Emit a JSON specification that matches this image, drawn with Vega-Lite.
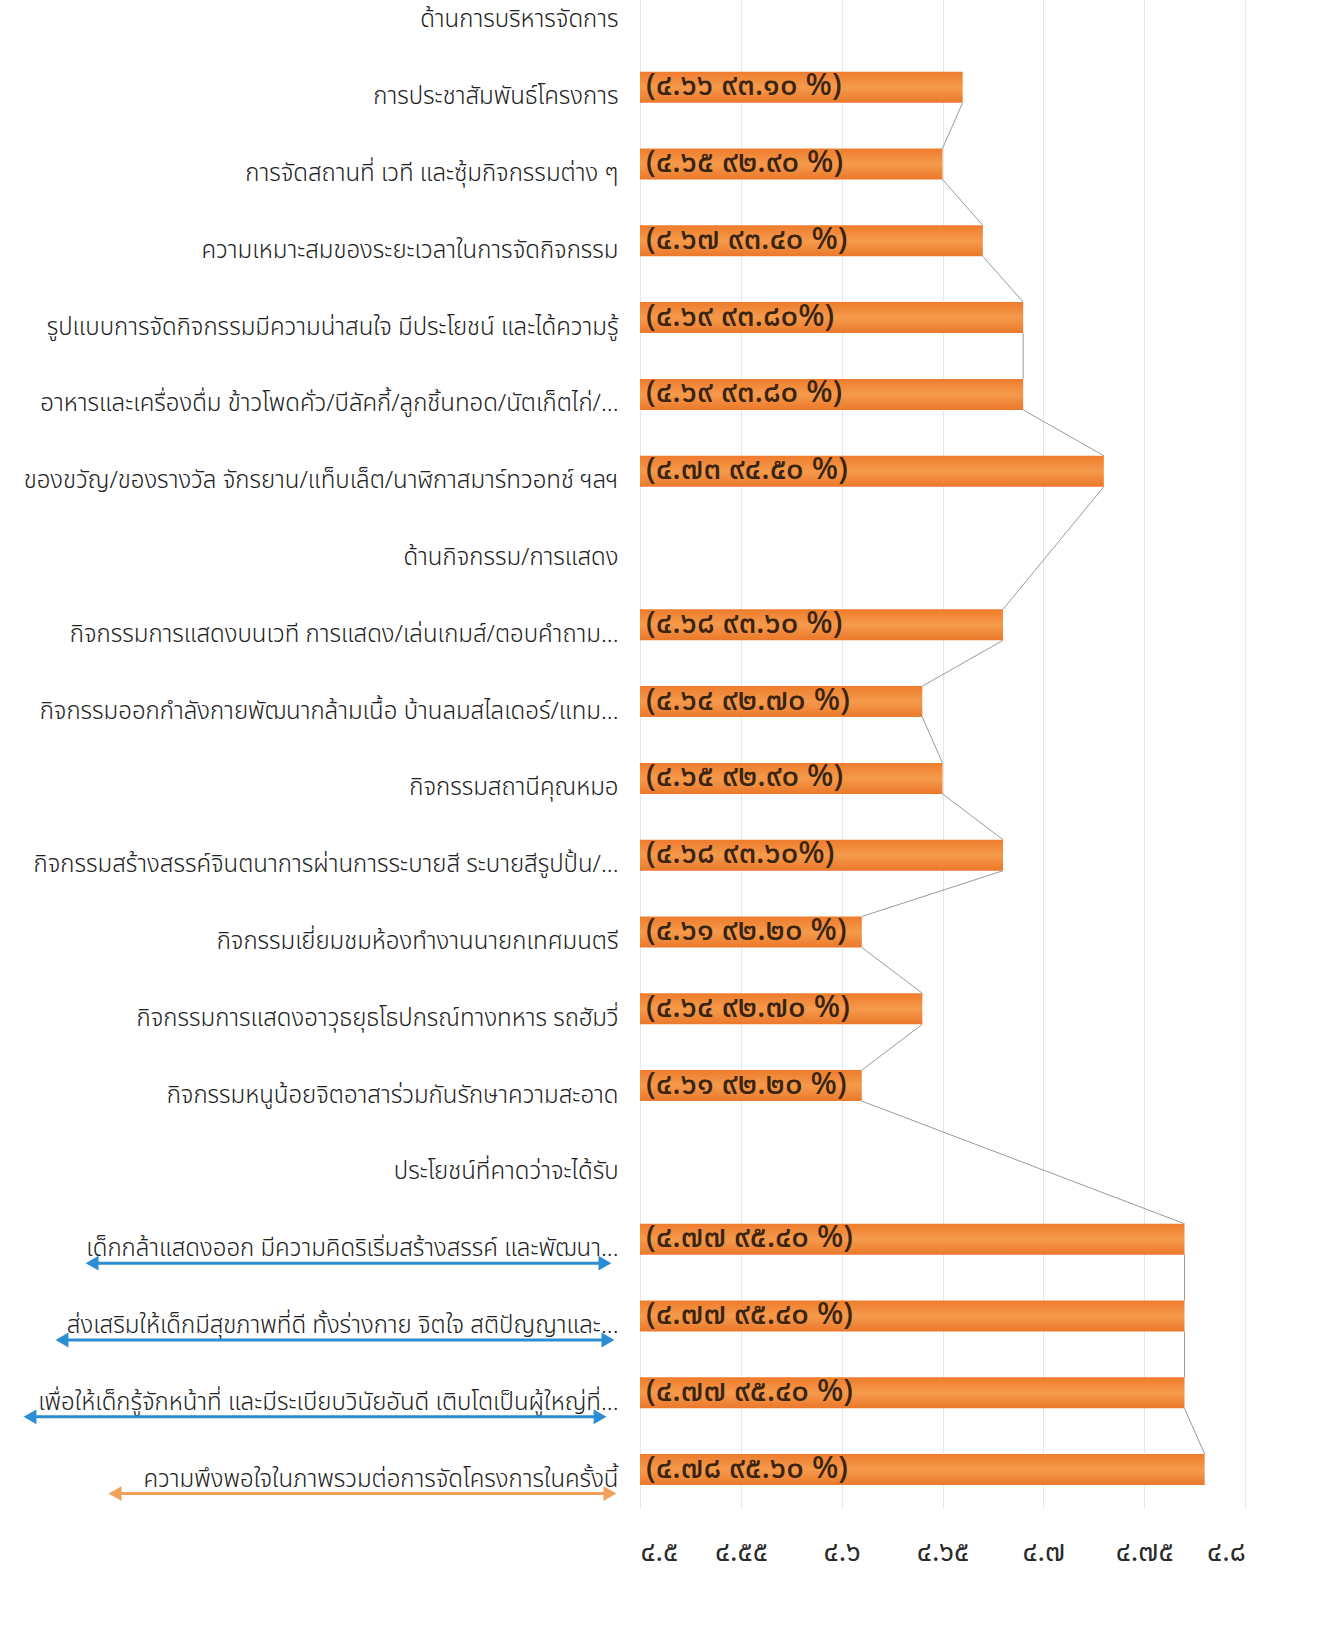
{
  "$schema": "https://vega.github.io/schema/vega-lite/v6.json",
  "autosize": {"type": "none"},
  "width": 605,
  "height": 1536,
  "padding": {"left": 640, "top": -28, "right": 94, "bottom": 132},
  "background": "white",
  "config": {
    "view": {"stroke": null},
    "font": "Noto Sans Thai, Noto Sans, sans-serif"
  },
  "datasets": {
    "items": [
      {"order": 1, "label": "ด้านการบริหารจัดการ", "value": null, "text": ""},
      {"order": 2, "label": "การประชาสัมพันธ์โครงการ", "value": 4.66, "text": "(๔.๖๖ ๙๓.๑๐ %)"},
      {"order": 3, "label": "การจัดสถานที่ เวที และซุ้มกิจกรรมต่าง ๆ", "value": 4.65, "text": "(๔.๖๕ ๙๒.๙๐ %)"},
      {"order": 4, "label": "ความเหมาะสมของระยะเวลาในการจัดกิจกรรม", "value": 4.67, "text": "(๔.๖๗ ๙๓.๔๐ %)"},
      {"order": 5, "label": "รูปแบบการจัดกิจกรรมมีความน่าสนใจ มีประโยชน์ และได้ความรู้", "value": 4.69, "text": "(๔.๖๙ ๙๓.๘๐%)"},
      {"order": 6, "label": "อาหารและเครื่องดื่ม ข้าวโพดคั่ว/บีลัคกี้/ลูกชิ้นทอด/นัตเก็ตไก่/...", "value": 4.69, "text": "(๔.๖๙ ๙๓.๘๐ %)"},
      {"order": 7, "label": "ของขวัญ/ของรางวัล จักรยาน/แท็บเล็ต/นาฬิกาสมาร์ทวอทช์ ฯลฯ", "value": 4.73, "text": "(๔.๗๓ ๙๔.๕๐ %)"},
      {"order": 8, "label": "ด้านกิจกรรม/การแสดง", "value": null, "text": ""},
      {"order": 9, "label": "กิจกรรมการแสดงบนเวที การแสดง/เล่นเกมส์/ตอบคำถาม...", "value": 4.68, "text": "(๔.๖๘ ๙๓.๖๐ %)"},
      {"order": 10, "label": "กิจกรรมออกกำลังกายพัฒนากล้ามเนื้อ บ้านลมสไลเดอร์/แทม...", "value": 4.64, "text": "(๔.๖๔ ๙๒.๗๐ %)"},
      {"order": 11, "label": "กิจกรรมสถานีคุณหมอ", "value": 4.65, "text": "(๔.๖๕ ๙๒.๙๐ %)"},
      {"order": 12, "label": "กิจกรรมสร้างสรรค์จินตนาการผ่านการระบายสี ระบายสีรูปปั้น/...", "value": 4.68, "text": "(๔.๖๘ ๙๓.๖๐%)"},
      {"order": 13, "label": "กิจกรรมเยี่ยมชมห้องทำงานนายกเทศมนตรี", "value": 4.61, "text": "(๔.๖๑ ๙๒.๒๐ %)"},
      {"order": 14, "label": "กิจกรรมการแสดงอาวุธยุธโธปกรณ์ทางทหาร รถฮัมวี่", "value": 4.64, "text": "(๔.๖๔ ๙๒.๗๐ %)"},
      {"order": 15, "label": "กิจกรรมหนูน้อยจิตอาสาร่วมกันรักษาความสะอาด", "value": 4.61, "text": "(๔.๖๑ ๙๒.๒๐ %)"},
      {"order": 16, "label": "ประโยชน์ที่คาดว่าจะได้รับ", "value": null, "text": ""},
      {"order": 17, "label": "เด็กกล้าแสดงออก มีความคิดริเริ่มสร้างสรรค์ และพัฒนา...", "value": 4.77, "text": "(๔.๗๗ ๙๕.๔๐ %)"},
      {"order": 18, "label": "ส่งเสริมให้เด็กมีสุขภาพที่ดี ทั้งร่างกาย จิตใจ สติปัญญาและ...", "value": 4.77, "text": "(๔.๗๗ ๙๕.๔๐ %)"},
      {"order": 19, "label": "เพื่อให้เด็กรู้จักหน้าที่ และมีระเบียบวินัยอันดี เติบโตเป็นผู้ใหญ่ที่...", "value": 4.77, "text": "(๔.๗๗ ๙๕.๔๐ %)"},
      {"order": 20, "label": "ความพึงพอใจในภาพรวมต่อการจัดโครงการในครั้งนี้", "value": 4.78, "text": "(๔.๗๘ ๙๕.๖๐ %)"}
    ],
    "arrows": [
      {"label": "เด็กกล้าแสดงออก มีความคิดริเริ่มสร้างสรรค์ และพัฒนา...", "start": 4.2283, "end": 4.4826, "kind": "blue"},
      {"label": "ส่งเสริมให้เด็กมีสุขภาพที่ดี ทั้งร่างกาย จิตใจ สติปัญญาและ...", "start": 4.2134, "end": 4.4841, "kind": "blue"},
      {"label": "เพื่อให้เด็กรู้จักหน้าที่ และมีระเบียบวินัยอันดี เติบโตเป็นผู้ใหญ่ที่...", "start": 4.1975, "end": 4.4802, "kind": "blue"},
      {"label": "ความพึงพอใจในภาพรวมต่อการจัดโครงการในครั้งนี้", "start": 4.2397, "end": 4.4851, "kind": "orange"}
    ]
  },
  "encoding": {
    "y": {
      "field": "label",
      "type": "nominal",
      "scale": {
        "domain": [
          "ด้านการบริหารจัดการ",
          "การประชาสัมพันธ์โครงการ",
          "การจัดสถานที่ เวที และซุ้มกิจกรรมต่าง ๆ",
          "ความเหมาะสมของระยะเวลาในการจัดกิจกรรม",
          "รูปแบบการจัดกิจกรรมมีความน่าสนใจ มีประโยชน์ และได้ความรู้",
          "อาหารและเครื่องดื่ม ข้าวโพดคั่ว/บีลัคกี้/ลูกชิ้นทอด/นัตเก็ตไก่/...",
          "ของขวัญ/ของรางวัล จักรยาน/แท็บเล็ต/นาฬิกาสมาร์ทวอทช์ ฯลฯ",
          "ด้านกิจกรรม/การแสดง",
          "กิจกรรมการแสดงบนเวที การแสดง/เล่นเกมส์/ตอบคำถาม...",
          "กิจกรรมออกกำลังกายพัฒนากล้ามเนื้อ บ้านลมสไลเดอร์/แทม...",
          "กิจกรรมสถานีคุณหมอ",
          "กิจกรรมสร้างสรรค์จินตนาการผ่านการระบายสี ระบายสีรูปปั้น/...",
          "กิจกรรมเยี่ยมชมห้องทำงานนายกเทศมนตรี",
          "กิจกรรมการแสดงอาวุธยุธโธปกรณ์ทางทหาร รถฮัมวี่",
          "กิจกรรมหนูน้อยจิตอาสาร่วมกันรักษาความสะอาด",
          "ประโยชน์ที่คาดว่าจะได้รับ",
          "เด็กกล้าแสดงออก มีความคิดริเริ่มสร้างสรรค์ และพัฒนา...",
          "ส่งเสริมให้เด็กมีสุขภาพที่ดี ทั้งร่างกาย จิตใจ สติปัญญาและ...",
          "เพื่อให้เด็กรู้จักหน้าที่ และมีระเบียบวินัยอันดี เติบโตเป็นผู้ใหญ่ที่...",
          "ความพึงพอใจในภาพรวมต่อการจัดโครงการในครั้งนี้"
        ],
        "paddingInner": 0.6,
        "paddingOuter": 0.3
      },
      "axis": {
        "title": null,
        "ticks": false,
        "domain": false,
        "labelFontSize": 24,
        "labelFontWeight": 300,
        "labelColor": "#222222",
        "labelLimit": 700,
        "labelPadding": 22,
        "labelOffset": 10
      }
    }
  },
  "layer": [
    {
      "data": {"name": "items"},
      "mark": {"type": "bar", "size": 31, "color": {"gradient": "linear", "x1": 0, "y1": 0, "x2": 0, "y2": 1, "stops": [{"offset": 0, "color": "#EE7C2C"}, {"offset": 0.5, "color": "#F59A4C"}, {"offset": 1, "color": "#EB782A"}]}},
      "transform": [{"filter": "isValid(datum.value)"}],
      "encoding": {
        "x": {
          "field": "value",
          "type": "quantitative",
          "scale": {"domain": [4.5, 4.8], "zero": false, "nice": false},
          "axis": {
            "title": null,
            "values": [4.5, 4.55, 4.6, 4.65, 4.7, 4.75, 4.8],
            "format": ".2~f",
            "labelExpr": "replace(replace(replace(replace(replace(replace(replace(replace(replace(replace(datum.label, regexp('0','g'), '๐'), regexp('1','g'), '๑'), regexp('2','g'), '๒'), regexp('3','g'), '๓'), regexp('4','g'), '๔'), regexp('5','g'), '๕'), regexp('6','g'), '๖'), regexp('7','g'), '๗'), regexp('8','g'), '๘'), regexp('9','g'), '๙')",
            "ticks": false,
            "domain": false,
            "grid": true,
            "gridColor": "#e6e6e6",
            "gridWidth": 1,
            "labelFontSize": 28,
            "labelColor": "#2b2b2b",
            "labelPadding": 30
          }
        },
        "x2": {"datum": 4.5}
      }
    },
    {
      "data": {"name": "items"},
      "transform": [
        {"filter": "isValid(datum.value)"},
        {"window": [{"op": "lead", "field": "value", "as": "nextValue"}, {"op": "lead", "field": "label", "as": "nextLabel"}], "sort": [{"field": "order"}]},
        {"filter": "isValid(datum.nextValue)"}
      ],
      "mark": {"type": "rule", "color": "#9a9a9a", "strokeWidth": 1, "yOffset": 15.5, "y2Offset": -15.5},
      "encoding": {
        "x": {"field": "value", "type": "quantitative"},
        "x2": {"field": "nextValue"},
        "y2": {"field": "nextLabel"}
      }
    },
    {
      "data": {"name": "items"},
      "transform": [{"filter": "isValid(datum.value)"}],
      "mark": {"type": "text", "align": "left", "baseline": "middle", "dx": 6, "dy": -1, "fontSize": 31, "fontWeight": 500, "color": "#3a2410"},
      "encoding": {
        "x": {"datum": 4.5, "type": "quantitative"},
        "text": {"field": "text"}
      }
    },
    {
      "data": {"name": "arrows"},
      "mark": {"type": "rule", "strokeWidth": 3, "yOffset": 24, "y2Offset": 24},
      "encoding": {
        "x": {"field": "start", "type": "quantitative"},
        "x2": {"field": "end"},
        "color": {"field": "kind", "type": "nominal", "scale": {"domain": ["blue", "orange"], "range": ["#2B8DD3", "#F2A05A"]}, "legend": null}
      }
    },
    {
      "data": {"name": "arrows"},
      "transform": [{"fold": ["start", "end"], "as": ["side", "pos"]}],
      "mark": {"type": "point", "filled": true, "opacity": 1, "size": 220, "yOffset": 24},
      "encoding": {
        "x": {"field": "pos", "type": "quantitative"},
        "shape": {"field": "side", "type": "nominal", "scale": {"domain": ["start", "end"], "range": ["triangle-left", "triangle-right"]}, "legend": null},
        "color": {"field": "kind", "type": "nominal", "legend": null}
      }
    }
  ]
}
